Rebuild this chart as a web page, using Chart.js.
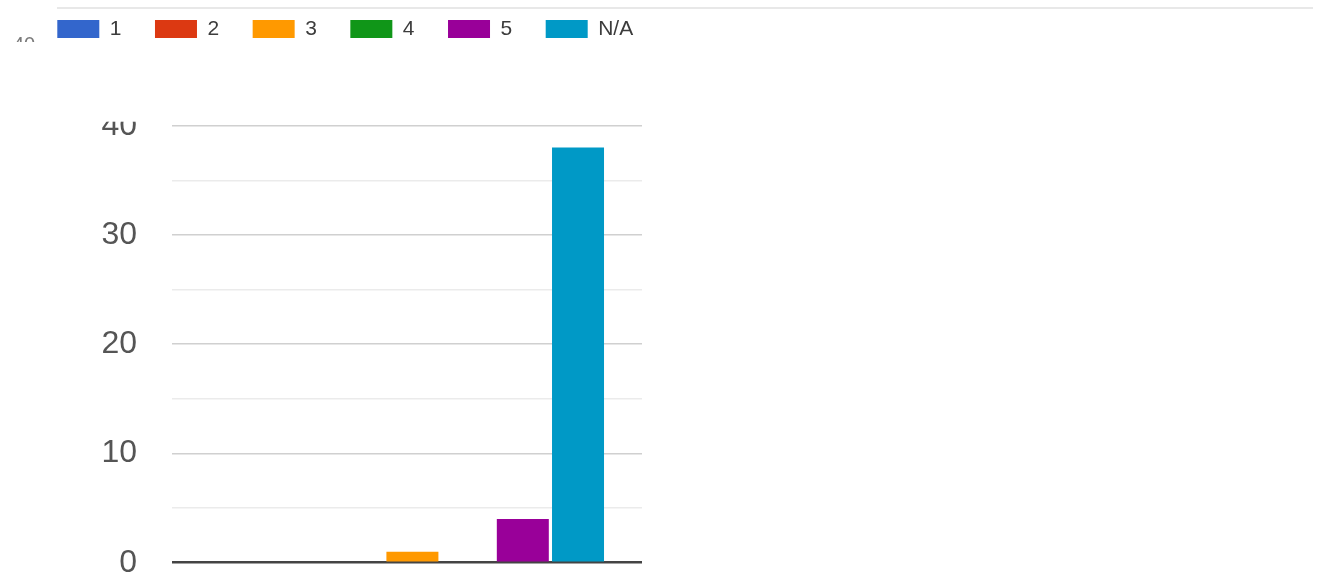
<!DOCTYPE html>
<html>
<head>
<meta charset="utf-8">
<script src="https://cdn.jsdelivr.net/npm/chart.js@4"></script>
<style>
  html, body { margin: 0; padding: 0; background: #ffffff; width: 1320px; height: 575px; overflow: hidden; }
  #wrap { position: relative; width: 1320px; height: 575px; overflow: hidden; }
  #c { position: absolute; left: 0; top: -15px; }
  #topline { position: absolute; left: 57px; top: 7px; width: 1256px; height: 2px; background: #e8e8e8; }
  #ghost { position: absolute; left: 13px; top: 34px; height: 8px; overflow: hidden;
           font-family: "Liberation Sans", Arial, sans-serif; font-size: 20px; line-height: 20px; color: #7a7a7a; }
</style>
</head>
<body>
<div id="wrap">
  <canvas id="c" width="1320" height="590"></canvas>
  <div id="topline"></div>
  <div id="ghost">40</div>
</div>
<script>
// ---- data ----
const categories = ['1', '2', '3', '4', '5', 'N/A'];
const counts = [0, 0, 1, 0, 4, 38];
const colors = ['#3366cc', '#dc3912', '#ff9900', '#109618', '#990099', '#0099c6'];
const yTickLabels = [0, 10, 20, 30, 40];

const datasets = categories.map((c, i) => ({
  label: c,
  data: [{ x: i, y: counts[i] }],
  backgroundColor: colors[i],
  borderWidth: 0,
  inflateAmount: 0,
  barThickness: 52,
  grouped: false
}));

const legendSpacer = {
  id: 'legendSpacer',
  beforeInit(chart) {
    if (!chart.legend) return;
    const orig = chart.legend.fit;
    chart.legend.fit = function () {
      orig.bind(chart.legend)();
      this.height += 76.2;
    };
  }
};

const cropMask = {
  id: 'cropMask',
  afterDraw(chart) {
    const ctx = chart.ctx;
    ctx.save();
    ctx.fillStyle = '#ffffff';
    ctx.fillRect(60, 75, 110, 136.7 - 75);
    ctx.restore();
  }
};

new Chart(document.getElementById('c'), {
  type: 'bar',
  data: { datasets },
  options: {
    responsive: false,
    animation: false,
    devicePixelRatio: 1,
    layout: { padding: { left: 23.8, right: 0, top: 0, bottom: 12.3 } },
    plugins: {
      legend: {
        display: true,
        position: 'top',
        align: 'start',
        labels: {
          boxWidth: 42,
          boxHeight: 18,
          padding: 33.5,
          color: '#3c3c3c',
          font: { family: '"Liberation Sans", Arial, sans-serif', size: 21 }
        }
      },
      tooltip: { enabled: false }
    },
    scales: {
      x: {
        type: 'linear',
        display: false,
        offset: false,
        stacked: true,
        min: -2.355,
        max: 6.159,
        ticks: { stepSize: 1, includeBounds: false }
      },
      y: {
        type: 'linear',
        position: 'left',
        min: 0,
        max: 40,
        border: { display: false },
        grid: {
          drawTicks: false,
          color: (ctx) => ctx.tick && ctx.tick.value === 0 ? '#444444' : (yTickLabels.includes(ctx.tick && ctx.tick.value) ? '#d0d0d0' : '#ebebeb'),
          lineWidth: (ctx) => ctx.tick && ctx.tick.value === 0 ? 2.5 : 1.5
        },
        ticks: {
          stepSize: 5,
          padding: 35,
          color: '#555555',
          font: { family: '"Liberation Sans", Arial, sans-serif', size: 32 },
          callback: (v) => yTickLabels.includes(v) ? String(v) : ''
        },
        afterFit(s) { s.width = 148.2; s.paddingTop = 0; s.paddingBottom = 0; }
      },
      y2: {
        type: 'linear',
        position: 'right',
        display: true,
        border: { display: false },
        grid: { display: false, drawTicks: false },
        ticks: { display: false },
        afterFit(s) { s.width = 678; s.paddingTop = 0; s.paddingBottom = 0; }
      }
    }
  },
  plugins: [legendSpacer, cropMask]
});
</script>
</body>
</html>
